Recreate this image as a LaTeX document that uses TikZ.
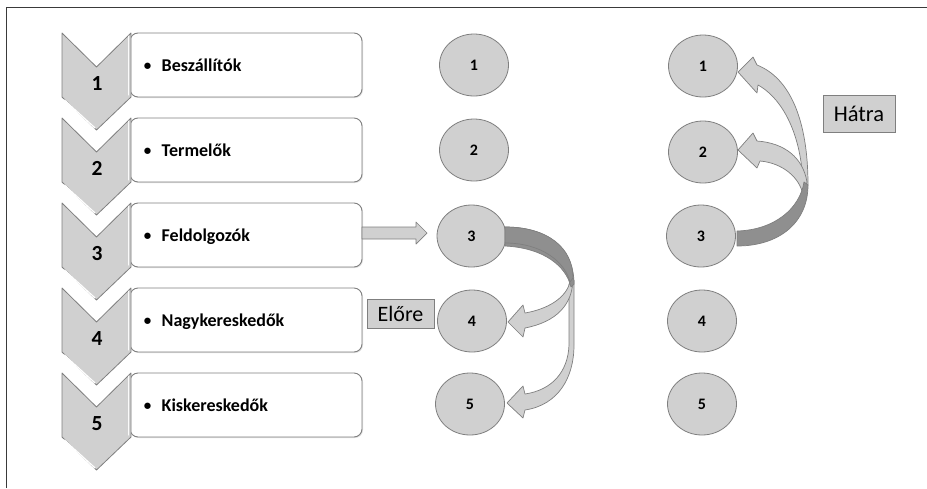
\documentclass[tikz,border=0pt]{standalone}
\usepackage{fontspec}
\setmainfont{Carlito}
\usetikzlibrary{shapes.geometric}
\definecolor{fillg}{HTML}{D0D0D0}
\definecolor{lineg}{HTML}{7F7F7F}
\definecolor{darkg}{HTML}{8F8F8F}
\definecolor{framec}{HTML}{3A3A3A}
\definecolor{shadowc}{HTML}{E2E2E2}
\begin{document}
\begin{tikzpicture}[x=1pt,y=-1pt,
  rectbox/.style={draw=lineg, fill=white, rounded corners=8pt, minimum width=232pt, minimum height=64pt, line width=0.9pt, inner sep=0pt},
  shadowbox/.style={fill=shadowc, rounded corners=8pt, minimum width=232pt, minimum height=64pt, inner sep=0pt},
  chev/.style={fill=fillg, draw=lineg, line width=0.8pt, line join=round},
  num/.style={font=\fontsize{21.5}{23}\selectfont\bfseries, inner sep=0pt, anchor=base},
  lbl/.style={font=\fontsize{18}{20}\selectfont\bfseries, inner sep=0pt, anchor=base west},
  bul/.style={font=\fontsize{15}{16}\selectfont\bfseries, inner sep=0pt, anchor=base},
  circ/.style={ellipse, fill=fillg, draw=lineg, line width=0.8pt, minimum width=69pt, minimum height=62pt, inner sep=0pt, font=\fontsize{16}{18}\selectfont\bfseries},
  tagbox/.style={fill=fillg, draw=lineg, line width=0.8pt, inner sep=0pt},
  arrowlight/.style={fill=fillg, draw=lineg, line width=0.7pt, line join=round},
  arrowdark/.style={fill=darkg, draw=lineg, line width=0.7pt, line join=round}]
\useasboundingbox (0,0) rectangle (927,488);
\draw[framec, line width=1.5pt] (6.5,488) -- (6.5,7.5) -- (927,7.5);

% left list
\foreach \i/\txt in {1/Beszállítók,2/Termelők,3/Feldolgozók,4/Nagykereskedők,5/Kiskereskedők}{
  \pgfmathsetmacro\t{33+85*(\i-1)}
  \node[shadowbox] (s\i) at (247,\t+33) {};
  \node[rectbox] (r\i) at (246,\t+32) {};
  \filldraw[chev] (62,\t) -- (96.5,\t+34) -- (131,\t) -- (131,\t+64) -- (96.5,\t+97) -- (62,\t+64) -- cycle;
  \draw[white, line width=1.3pt, line cap=round] (64.5,\t+67) -- (95,\t+95);
  \draw[white!90!fillg, line width=1pt, line cap=round] (128.5,\t+3) -- (128.5,\t+62);
  \node[num] (n\i) at (97,\t+57.5) {\i};
  \node[bul] (u\i) at (147.5,\t+37.5) {•};
  \node[lbl] (t\i) at (161.5,\t+38) {\txt};
}

% circles column 1
\node[circ] (a1) at (474,65) {1};
\node[circ] (a2) at (474,150) {2};
\node[circ] (a3) at (471.5,236) {3};
\node[circ] (a4) at (472,321) {4};
\node[circ] (a5) at (470,404) {5};
% circles column 2
\node[circ] (b1) at (703,66) {1};
\node[circ] (b2) at (703,152) {2};
\node[circ] (b3) at (701,236) {3};
\node[circ] (b4) at (702,321) {4};
\node[circ] (b5) at (702,404) {5};

% tags
\node[tagbox, minimum width=67pt, minimum height=29pt, font=\fontsize{22}{24}\selectfont] (elore) at (400.5,313.5) {Előre};
\node[tagbox, minimum width=72pt, minimum height=37pt, font=\fontsize{22.5}{24}\selectfont] (hatra) at (859,113.5) {Hátra};

% straight block arrow from list item 3 to circle 3
\coordinate (sa) at (362,233);
\coordinate (se) at (427,233);
\filldraw[arrowlight] (sa) ++(0,-6) -- ++(54,0) -- ++(0,-5) -- (se) -- ++(-11,11) -- ++(0,-5) -- ++(-54,0) -- cycle;

% Elore curved arrows
\filldraw[arrowlight] (569,284) -- (569,345) .. controls (568,372) and (552,390) .. (525,394) -- (523,386) -- (507,403) -- (523,418) -- (525,410) .. controls (558,405) and (574,378) .. (574,345) -- (574,280) -- cycle;
\filldraw[arrowlight] (570,282) .. controls (566,298) and (548,309) .. (525,313) -- (523,305) -- (508,322) -- (523,337) -- (525,328) .. controls (556,322) and (573,305) .. (573,278) -- cycle;
\filldraw[arrowdark] (505,227) .. controls (550,227) and (574,250) .. (574,284) -- (571,287) .. controls (566,266) and (544,248) .. (505,246) -- cycle;
\filldraw[arrowdark] (505,227) .. controls (548,227) and (573,248) .. (573,278) -- (570,282) .. controls (565,262) and (542,243) .. (505,243) -- cycle;

% Hatra curved arrows
\filldraw[arrowlight] (808,185) .. controls (808,120) and (790,78) .. (757,65) -- (753,57) -- (738,72) -- (757,93) -- (758,85) .. controls (785,100) and (803,140) .. (803,190) -- cycle;
\filldraw[arrowlight] (807,182) .. controls (803,158) and (785,143) .. (757,141) -- (753,133) -- (738,150) -- (757,168) -- (760,161) .. controls (783,163) and (800,178) .. (803,195) -- cycle;
\filldraw[arrowdark] (737,246) .. controls (780,246) and (808,222) .. (808,185) -- (804,182) .. controls (800,208) and (775,230) .. (737,231) -- cycle;
\end{tikzpicture}
\end{document}
